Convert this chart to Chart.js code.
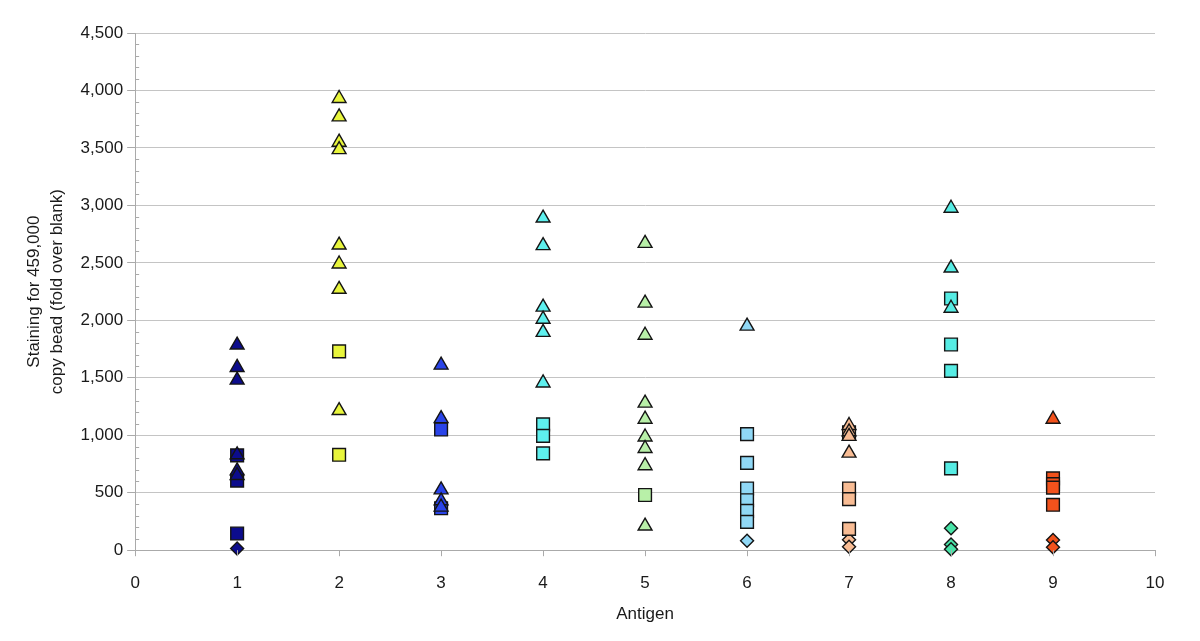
<!DOCTYPE html>
<html>
<head>
<meta charset="utf-8">
<script src="https://cdn.jsdelivr.net/npm/chart.js@4/dist/chart.umd.min.js"></script>
<style>
  html, body { margin: 0; padding: 0; background: #fff; }
  #wrap { width: 1200px; height: 641px; }
</style>
</head>
<body>
<div id="wrap"><canvas id="myChart"></canvas></div>
<script>
// one entry per antigen (1..9)
const antigens = [1, 2, 3, 4, 5, 6, 7, 8, 9];
const fillColors = ['#0c0c8c', '#e8f53c', '#2a44e8', '#5ef0ee', '#b8f0a8', '#90d8f6', '#f8bc94', '#56ece4', '#f2521c'];
const diamondColors = ['#0c0c8c', '#e8f53c', '#2a44e8', '#5ef0ee', '#b8f0a8', '#90d8f6', '#f8bc94', '#48e4a8', '#f2521c'];

const triangleVals = [
  [1785, 1590, 1480, 830, 690, 650],
  [3930, 3770, 3550, 3485, 2655, 2490, 2270, 1215],
  [1610, 1145, 525, 430, 375],
  [2890, 2650, 2115, 2010, 1895, 1455],
  [2670, 2150, 1870, 1280, 1140, 985, 885, 735, 210],
  [1950],
  [1085, 1030, 990, 845],
  [2975, 2455, 2105],
  [1140]
];
const squareVals = [
  [825, 605, 145],
  [1730, 830],
  [1050, 365],
  [1095, 995, 842],
  [480],
  [1010, 760, 537, 435, 342, 247],
  [1025, 537, 444, 185],
  [2190, 1790, 1560, 712],
  [625, 575, 545, 395]
];
const diamondVals = [
  [15],
  [],
  [],
  [],
  [],
  [82],
  [90, 30],
  [190, 50, 8],
  [88, 25]
];

const yTicks = [0, 500, 1000, 1500, 2000, 2500, 3000, 3500, 4000, 4500];
const xTicks = [0, 1, 2, 3, 4, 5, 6, 7, 8, 9, 10];

function pts(x, vals) {
  return vals.map(v => ({ x: x, y: v }));
}

const datasets = [];
antigens.forEach((a, i) => {
  datasets.push({ data: pts(a, diamondVals[i]), pointStyle: 'rectRot', pointRadius: 6.5, backgroundColor: diamondColors[i], order: 3 });
});
antigens.forEach((a, i) => {
  datasets.push({ data: pts(a, squareVals[i]), pointStyle: 'rect', pointRadius: 9, backgroundColor: fillColors[i], order: 2 });
});
antigens.forEach((a, i) => {
  datasets.push({ data: pts(a, triangleVals[i]), pointStyle: 'triangle', pointRadius: 8, backgroundColor: fillColors[i], order: 1 });
});
datasets.forEach(d => {
  d.borderColor = '#141414';
  d.borderWidth = 1.4;
  d.pointHoverRadius = d.pointRadius;
  d.clip = false;
});

// minor ticks on the y axis every 100, short tick marks under the x axis
const axisTicks = {
  id: 'axisTicks',
  afterDraw(chart) {
    const y = chart.scales.y;
    const x = chart.scales.x;
    const c = chart.ctx;
    c.save();
    c.strokeStyle = '#aaaaaa';
    c.lineWidth = 1;
    for (let v = 0; v <= 4500; v += 100) {
      if (v % 500 === 0) continue;
      const py = Math.round(y.getPixelForValue(v)) + 0.5;
      c.beginPath();
      c.moveTo(y.right, py);
      c.lineTo(y.right + 4, py);
      c.stroke();
    }
    xTicks.forEach(v => {
      const px = Math.round(x.getPixelForValue(v)) + 0.5;
      c.beginPath();
      c.moveTo(px, x.top);
      c.lineTo(px, x.top + 6);
      c.stroke();
    });
    c.restore();
  }
};

const font = { family: '"Liberation Sans", Arial, Helvetica, sans-serif', size: 17 };

new Chart(document.getElementById('myChart'), {
  type: 'scatter',
  data: { datasets: datasets },
  options: {
    responsive: true,
    maintainAspectRatio: false,
    animation: false,
    events: [],
    layout: { padding: { top: 33, right: 45, left: 18, bottom: 12 } },
    plugins: { legend: { display: false }, tooltip: { enabled: false } },
    scales: {
      x: {
        type: 'linear',
        min: 0,
        max: 10,
        ticks: { stepSize: 1, color: '#1a1a1a', font: font, padding: 6 },
        grid: { drawOnChartArea: false, drawTicks: true, tickLength: 17, tickColor: 'rgba(0,0,0,0)', color: '#aaaaaa' },
        border: { color: '#aaaaaa' },
        title: { display: true, text: 'Antigen', color: '#1a1a1a', font: font, padding: { top: 5 } }
      },
      y: {
        min: 0,
        max: 4500,
        afterBuildTicks(scale) {
          scale.ticks = yTicks.map(v => ({ value: v }));
        },
        ticks: {
          color: '#1a1a1a',
          font: font,
          padding: 4,
          callback: v => v.toLocaleString('en-US')
        },
        grid: { color: '#c4c4c4', tickColor: '#aaaaaa', tickLength: 8 },
        border: { color: '#aaaaaa' },
        title: {
          display: true,
          text: ['Staining for 459,000', 'copy bead (fold over blank)'],
          color: '#1a1a1a',
          font: Object.assign({}, font, { lineHeight: 1.4 }),
          padding: { bottom: 7 }
        }
      }
    }
  },
  plugins: [axisTicks]
});
</script>
</body>
</html>
